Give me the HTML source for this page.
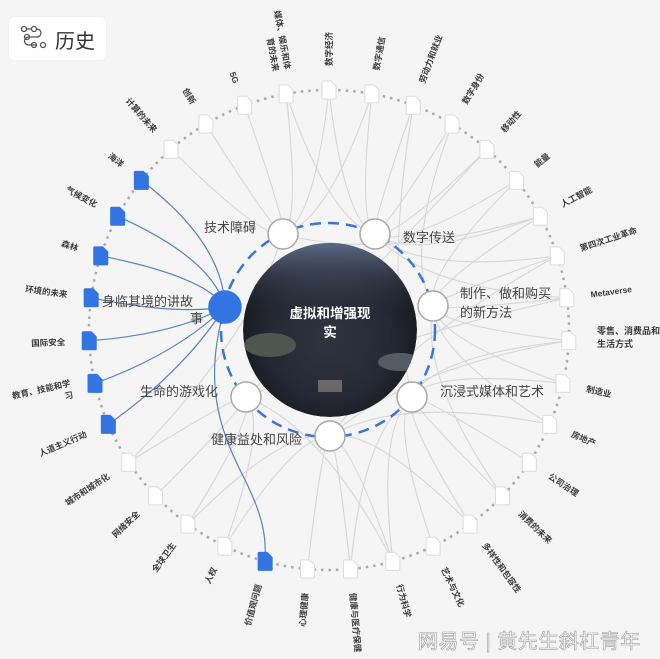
<!DOCTYPE html>
<html><head><meta charset="utf-8">
<style>
html,body{margin:0;padding:0;background:#f5f5f6;}
body{width:660px;height:659px;overflow:hidden;position:relative;font-family:"Liberation Sans","Noto Sans CJK SC",sans-serif;}
svg{position:absolute;left:0;top:0;}
.hdr{position:absolute;left:9px;top:17px;width:97px;height:43px;background:#fff;border-radius:6px;box-shadow:0 0 2px rgba(0,0,0,0.05);}
.hdr span{position:absolute;left:46px;top:8px;font-size:20px;color:#333;}
.wm{position:absolute;left:418px;top:625px;font-size:20px;color:#fff;-webkit-text-stroke:0.6px #999;letter-spacing:0.5px;}
</style></head><body>
<svg id="s" width="660" height="659" viewBox="0 0 660 659">
<defs>
<radialGradient id="ph" cx="50%" cy="55%" r="55%">
<stop offset="0" stop-color="#30343f"/><stop offset="0.6" stop-color="#262a35"/><stop offset="1" stop-color="#16181e"/>
</radialGradient>
<linearGradient id="top" x1="0" y1="0" x2="0" y2="1">
<stop offset="0" stop-color="#5d6a86"/><stop offset="1" stop-color="#2e3444" stop-opacity="0"/>
</linearGradient>
<clipPath id="cc"><circle cx="330" cy="330" r="87"/></clipPath>
</defs>
<g id="edges" fill="none"></g>
<circle cx="329" cy="330" r="240" fill="none" stroke="#a9a9a9" stroke-width="2.5" stroke-dasharray="2.5 5"/>
<g clip-path="url(#cc)">
<circle cx="330" cy="330" r="87" fill="url(#ph)"/>
<rect x="242" y="243" width="176" height="70" fill="url(#top)"/>
<ellipse cx="270" cy="345" rx="26" ry="12" fill="#4f5650"/>
<ellipse cx="400" cy="362" rx="22" ry="9" fill="#555b63"/>
<rect x="318" y="380" width="24" height="12" fill="#9a8f8a" opacity="0.6"/>
</g>
<circle cx="328" cy="330" r="107" fill="none" stroke="#3b74d6" stroke-width="2.5" stroke-dasharray="11 7"/>
<g id="nodes"></g>
<g id="labels" font-size="8.5" fill="#3a3a3a" font-weight="bold"></g>
<text x="330" y="318" fill="#fff" font-size="13.5" font-weight="bold" text-anchor="middle">虚拟和增强现</text>
<text x="330" y="337" fill="#fff" font-size="13.5" font-weight="bold" text-anchor="middle">实</text>
<g font-size="13" fill="#444">
<text x="256" y="232" text-anchor="end">技术障碍</text>
<text x="403" y="242">数字传送</text>
<text x="460" y="298">制作、做和购买</text>
<text x="460" y="317">的新方法</text>
<text x="440" y="396">沉浸式媒体和艺术</text>
<text x="302" y="444" text-anchor="end">健康益处和风险</text>
<text x="218" y="396" text-anchor="end">生命的游戏化</text>
<text x="102" y="306">身临其境的讲故</text>
<text x="190" y="323">事</text>
</g>
</svg>
<div class="hdr">
<svg width="30" height="30" style="left:10px;top:7px" viewBox="0 0 30 30" fill="none" stroke="#555" stroke-width="1.3">
<circle cx="5" cy="5" r="2.5"/><circle cx="15" cy="5" r="2.5"/><path d="M7.5 5h5M17.5 5c6 0 6 8 0 8H10c-6 0-6 8 0 8h8"/>
<circle cx="8" cy="13" r="2.5"/><circle cx="15" cy="21" r="2.5"/><circle cx="24" cy="21" r="2.5"/>
</svg>
<span>历史</span></div>
<div class="wm">网易号 | 黄先生斜杠青年</div>
<script>
var NS="http://www.w3.org/2000/svg";
var names=["数字经济","数字通信","劳动力和就业","数字身份","移动性","能量","人工智能","第四次工业革命","Metaverse","零售、消费品和|生活方式","制造业","房地产","公司治理","消费的未来","多样性和包容性","艺术与文化","行为科学","健康与医疗保健","心理健康","价值观问题","人权","全球卫生","网络安全","城市和城市化","人道主义行动","教育、技能和学|习","国际安全","环境的未来","森林","气候变化","海洋","计算的未来","创新","5G","媒体、娱乐和体|育的未来"];
var blue=[19,24,25,26,27,28,29,30];
var CX=329,CY=330,R=240;
function pos(i,r){var a=(-90+i*360/35)*Math.PI/180;return [CX+r*Math.cos(a),CY+r*Math.sin(a),a];}
var inner={A:[283,234],B:[375,234],C:[433,306],D:[412,397],E:[330,436],F:[246,397],G:[225,307]};
var conn={A:[31,32,33,34,0,1,6,23],B:[34,0,1,2,3,4,5,6,7,8],C:[5,6,7,8,9,10,11,13,3],D:[9,10,12,13,14,15,16,17,2],E:[16,17,18,20,21,9,11,14,7],F:[23,22,21,20,16,4,8]};
var eg=document.getElementById("edges");
function path(d,c,w){var p=document.createElementNS(NS,"path");p.setAttribute("d",d);p.setAttribute("stroke",c);p.setAttribute("stroke-width",w);eg.appendChild(p);}
for(var k in conn){var s=inner[k];conn[k].forEach(function(i){var e=pos(i,R);var mx=(s[0]+e[0])/2,my=(s[1]+e[1])/2;var cx=mx+(CX-mx)*0.35,cy=my+(CY-my)*0.35;path("M"+s[0]+","+s[1]+" Q"+cx+","+cy+" "+e[0]+","+e[1],"#d6d6d8",1.1);});}
var g=inner.G;
blue.forEach(function(i){var e=pos(i,R);var d;
if(i==19){d="M"+g[0]+","+g[1]+" C200,390 225,440 245,480 S266,540 "+e[0]+","+e[1];}
else{var mx=(g[0]+e[0])/2,my=(g[1]+e[1])/2;var cx=mx+(CX-mx)*0.1+(i>27?25:0),cy=my+(CY-my)*0.1+(i>27?-10:10);d="M"+g[0]+","+g[1]+" Q"+cx+","+cy+" "+e[0]+","+e[1];}
path(d,"#5b7fc4",1.2);});
var ng=document.getElementById("nodes"),lg=document.getElementById("labels");
for(var i=0;i<35;i++){var p=pos(i,R);var b=blue.indexOf(i)>=0;var x=p[0]-7,y=p[1]-9;
var n=document.createElementNS(NS,"path");n.setAttribute("d","M"+x+","+(y+1)+"q0,-1 1,-1h8l5,5v12q0,1 -1,1h-12q-1,0 -1,-1z");
n.setAttribute("fill",b?"#3274e2":"#fff");n.setAttribute("stroke",b?"#3274e2":"#dcdcdc");n.setAttribute("stroke-width","1");ng.appendChild(n);
var lp=pos(i,264);var deg=p[2]*180/Math.PI;var right=Math.cos(p[2])>-0.01;
var t=document.createElementNS(NS,"text");var parts=names[i].split("|");
if(i==9){t.setAttribute("x",597);t.setAttribute("y",334);t.setAttribute("font-size","9");
 parts.forEach(function(s,j){var ts=document.createElementNS(NS,"tspan");ts.setAttribute("x",597);ts.setAttribute("dy",j?13:0);ts.textContent=s;t.appendChild(ts);});lg.appendChild(t);continue;}
var rot=right?deg:deg+180;
t.setAttribute("transform","translate("+lp[0]+","+lp[1]+") rotate("+rot+")");
t.setAttribute("text-anchor",right?"start":"end");
if(parts.length==1){t.setAttribute("y","3");t.textContent=names[i];}
else{parts.forEach(function(s,j){var ts=document.createElementNS(NS,"tspan");ts.setAttribute("x",0);ts.setAttribute("y",j?9:-3);if(j)ts.setAttribute("text-anchor",right?"start":"end");ts.textContent=s;t.appendChild(ts);});}
lg.appendChild(t);}
for(var k in inner){var c=document.createElementNS(NS,"circle");c.setAttribute("cx",inner[k][0]);c.setAttribute("cy",inner[k][1]);c.setAttribute("r",k=="G"?16:15);
c.setAttribute("fill",k=="G"?"#3274e2":"#fff");c.setAttribute("stroke",k=="G"?"#3274e2":"#a8a8a8");c.setAttribute("stroke-width","1.5");ng.appendChild(c);}
</script>
</body></html>
